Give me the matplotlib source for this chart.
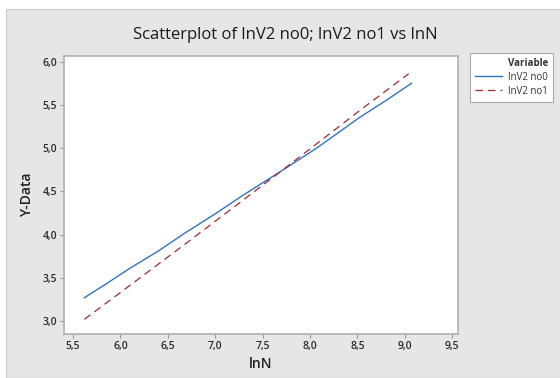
import matplotlib
matplotlib.use("Agg")
import matplotlib.pyplot as plt
from matplotlib.patches import Rectangle
from matplotlib.lines import Line2D
from matplotlib.ticker import FuncFormatter

plt.rcParams['font.family'] = ['Open Sans', 'DejaVu Sans']

# data
x_no0 = [5.62, 5.85, 6.10, 6.40, 6.67, 7.00, 7.30, 7.69, 8.07, 8.30, 8.53, 8.80, 9.07]
y_no0 = [3.27, 3.43, 3.61, 3.81, 4.01, 4.24, 4.46, 4.73, 5.00, 5.18, 5.36, 5.55, 5.75]
x_no1 = [5.62, 6.00, 6.67, 7.20, 7.69, 8.07, 8.53, 9.04]
y_no1 = [3.02, 3.33, 3.88, 4.32, 4.73, 5.05, 5.44, 5.86]
xticks = [5.5, 6.0, 6.5, 7.0, 7.5, 8.0, 8.5, 9.0, 9.5]
yticks = [3.0, 3.5, 4.0, 4.5, 5.0, 5.5, 6.0]
title = "Scatterplot of lnV2 no0; lnV2 no1 vs lnN"
labels = ["lnV2 no0", "lnV2 no1"]

fig = plt.figure(figsize=(5.6, 3.78), dpi=100)
fig.patch.set_facecolor('white')
fig.patches.append(Rectangle((6/560, 0), 1, 1 - 9/378, transform=fig.transFigure,
                             facecolor='#e6e6e6', edgecolor='#cccccc', lw=0.8, zorder=-5))

ax = fig.add_axes([64/560, 1 - 334/378, 394/560, 278/378])
ax.set_facecolor('white')
ax.plot(x_no0, y_no0, color='#2f74c0', lw=1.0, label=labels[0])
ax.plot(x_no1, y_no1, color='#a3282b', lw=0.9, dashes=(6, 4), label=labels[1])

ax.set_xlim(5.405, 9.56)
ax.set_ylim(2.85, 6.065)
ax.set_xticks(xticks)
ax.set_yticks(yticks)
fmt = FuncFormatter(lambda v, p: f"{v:.1f}".replace('.', ','))
ax.xaxis.set_major_formatter(fmt)
ax.yaxis.set_major_formatter(fmt)
ax.tick_params(colors='#999999', labelcolor='#2a2a2a', labelsize=7.5, length=3, width=0.8, pad=2)
for lab in ax.get_xticklabels() + ax.get_yticklabels():
    lab.set_fontweight('semibold')
for s in ax.spines.values():
    s.set_color('#b0b0b0')
    s.set_linewidth(1.2)

ax.set_xlabel("lnN", fontsize=10, fontweight='semibold', color='#222222', labelpad=4)
ax.set_ylabel("Y-Data", fontsize=10, fontweight='semibold', color='#222222', labelpad=6)
fig.text(285/560, 1 - 35/378, title, ha='center', va='center', fontsize=12, color='#1a1a1a')

h0 = Line2D([], [], color='none')
h1 = Line2D([], [], color='#2f74c0', lw=1.0)
h2 = Line2D([], [], color='#a3282b', lw=0.9, dashes=(6, 4))
leg = fig.legend([h0, h1, h2], ["Variable"] + labels, loc='upper left',
                 bbox_to_anchor=(470/560, 1 - 53/378), fontsize=7, frameon=True,
                 fancybox=False, edgecolor='#aaaaaa', facecolor='white', framealpha=1,
                 handlelength=2.8, handletextpad=0.6,
                 borderpad=0.5, labelspacing=0.3, borderaxespad=0)
leg.get_frame().set_linewidth(0.8)
leg.get_texts()[0].set_fontweight('bold')
for t in leg.get_texts():
    t.set_color('#333333')

fig.savefig("out.png", dpi=100)
